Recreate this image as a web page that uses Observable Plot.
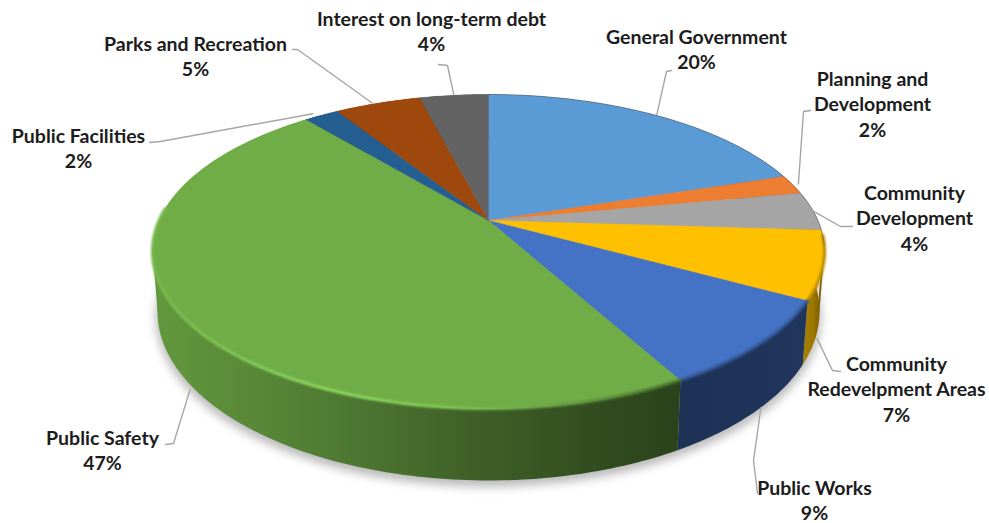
<!DOCTYPE html>
<html>
<head>
<meta charset="utf-8">
<script src="https://cdn.jsdelivr.net/npm/d3@7"></script>
<script src="https://cdn.jsdelivr.net/npm/@observablehq/plot@0.6"></script>
<style>
  html, body { margin: 0; padding: 0; background: #fff; }
  svg { display: block; }
</style>
</head>
<body>
<div id="chart"></div>
<script>
// Share of spending by function, clockwise from twelve o'clock.
const categories = [
  "General Government", "Planning and\nDevelopment", "Community\nDevelopment",
  "Community\nRedevelpment Areas", "Public Works", "Public Safety",
  "Public Facilities", "Parks and Recreation", "Interest on long-term debt"
];
const shares = [20, 2, 4, 7, 9, 47, 2, 5, 4];
const colors = ["#5b9bd5", "#ed7d31", "#a5a5a5", "#ffc000", "#4472c4", "#70ad47", "#255e91", "#9e480e", "#636363"];

// Side wall shading per slice, left to right: [offset, brightness].
const wallStops = [
  [[0, .6]], [[0, .6]], [[0, .5]],
  [[0, .66], [.45, .62], [1, .42]],
  [[0, .44], [.6, .46], [1, .47]],
  [[0, .88], [.17, .8], [.36, .7], [.6, .56], [.85, .44], [1, .38]],
  [[0, .6]], [[0, .6]], [[0, .6]]
];
// Patches that close the wall silhouette at the disc's two widest points:
// slice index, angle range, brightness.
const edgePatches = [[5, 240, 259, .87], [3, 101, 110, .5]];

// Label centre, first line height, then leader elbow/end and its attachment to the disc.
const labelX = [696, 872, 914, 896, 814, 102, 78, 195, 431];
const labelY = [25, 67, 181, 352, 476, 426, 124, 32, 7];
const leaderEnds = [
  [[666, 71], [671, 70]], [[803, 111], [810, 110]], [[840, 226], [852, 226]],
  [[832, 370], [840, 371]], [[753, 460], [757, 493]], [[173, 443], [165, 444]],
  [[160, 141], [149, 142]], [[297, 49], [292, 49]], [[447, 65], [438, 64]]
];
const leaderPlane = ["top", "top", "top", "base", "base", "base", "top", "top", "top"];
const leaderReach = [1.01, 1.02, 1.0, 1.005, 1.0, 1.01, 1.03, 1.01, 1.01];
const leaderTurn = [0, 0, 0, 4, -1.5, -2.5, -1, -1, 0];

// The disc is seen in perspective: top and base are projected from the unit circle.
const tilt = 0.1975;
const centerX = 488;
const topPlane = {a: 329.4, b: 150.9, y0: 220};
const basePlane = {a: 324.5, b: 162.4, y0: 277.6};

function project(plane, degrees, reach = 1) {
  const t = degrees * Math.PI / 180;
  const u = Math.sin(t) * reach, v = Math.cos(t) * reach, d = 1 + tilt * v;
  return [centerX + plane.a * u / d, plane.y0 - plane.b * v / d];
}

const ends = d3.cumsum(shares).map((s) => s / d3.sum(shares) * 360);
const slices = categories.map((name, i) => ({
  name, share: shares[i], color: colors[i], i,
  from: i ? ends[i - 1] : 0, to: ends[i], mid: ((i ? ends[i - 1] : 0) + ends[i]) / 2
}));

const darken = (color, f) => {
  const c = d3.rgb(color);
  return d3.rgb(c.r * f, c.g * f, c.b * f).formatHex();
};

const angles = (s, step = 1) => {
  const n = Math.max(1, Math.ceil((s.to - s.from) / step));
  return d3.range(n + 1).map((k) => s.from + (s.to - s.from) * k / n);
};

// Top face wedges: apex plus the arc.
const faces = slices.flatMap((s) => {
  const pts = [[centerX, topPlane.y0], ...angles(s).map((a) => project(topPlane, a)), [centerX, topPlane.y0]];
  return pts.map(([x, y]) => ({x, y, key: s.name, fill: s.color}));
});

// Side wall of each slice: the top arc followed by the base arc in reverse.
const walls = slices.flatMap((s) => {
  const as = angles(s);
  const pts = [...as.map((a) => project(topPlane, a)), ...as.slice().reverse().map((a) => project(basePlane, a))];
  return pts.map(([x, y]) => ({x, y, key: s.name, fill: `url(#wall-${s.i})`}));
});

const patches = edgePatches.flatMap(([i, from, to, light], n) =>
  [project(topPlane, from), project(topPlane, to), project(basePlane, to), project(basePlane, from)]
    .map(([x, y]) => ({x, y, key: n, fill: darken(colors[i], light)}))
);

// Gradient definitions for the side walls.
const wallGradients = () => {
  const ns = "http://www.w3.org/2000/svg";
  const defs = document.createElementNS(ns, "defs");
  for (const s of slices) {
    const g = document.createElementNS(ns, "linearGradient");
    g.setAttribute("id", `wall-${s.i}`);
    for (const [offset, light] of wallStops[s.i]) {
      const stop = document.createElementNS(ns, "stop");
      stop.setAttribute("offset", offset);
      stop.setAttribute("stop-color", darken(s.color, light));
      g.append(stop);
    }
    defs.append(g);
  }
  return defs;
};

// Soft bevel along the front rim; the green catches the light towards the lower left.
const rimFront = slices.filter((s) => s.to > 95 && s.from < 275).flatMap((s) =>
  angles(s).filter((a) => a >= 95 && a <= 275).map((a) => {
    const [x, y] = project(topPlane, a);
    let stroke;
    if (s.name === "Public Safety") {
      const f = d3.scaleLinear().domain([153, 340, 520, 675]).range([.25, .9, .25, 0]).clamp(true)(x);
      const d = d3.scaleLinear().domain([470, 675]).range([1, .62]).clamp(true)(x);
      stroke = d3.interpolateRgb(darken(s.color, d), "#90de62")(f);
    } else {
      stroke = darken(s.color, .72);
    }
    return {x, y, key: s.name, stroke};
  })
);

const shadowRing = d3.range(0, 361, 3).map((a) => {
  const [x, y] = project(basePlane, a, 1.005);
  return {x, y: y + 5};
});
const backRim = d3.range(0, 100, 1).map((a) => {
  const [x, y] = project(topPlane, a);
  return {x, y};
});

const leaders = slices.flatMap((s) => {
  const plane = leaderPlane[s.i] === "top" ? topPlane : basePlane;
  const start = project(plane, s.mid + leaderTurn[s.i], leaderReach[s.i]);
  return [start, ...leaderEnds[s.i]].map(([x, y]) => ({x, y, key: s.name}));
});

const labels = slices.map((s) => ({
  x: labelX[s.i], y: labelY[s.i], text: `${s.name}\n${s.share}%`
}));

const poly = (data, extra = {}) => Plot.line(data, {
  x: "x", y: "y", z: "key", fill: "fill", curve: "linear", ...extra
});

const chart = Plot.plot({
  width: 989,
  height: 523,
  margin: 0,
  x: {domain: [0, 989], range: [0, 989], axis: null},
  y: {domain: [0, 523], range: [0, 523], axis: null},
  color: {type: "identity"},
  marks: [
    wallGradients,
    Plot.line(shadowRing, {x: "x", y: "y", fill: "#8c8c8c", stroke: "none", fillOpacity: 0.6, imageFilter: "blur(5px)"}),
    poly(patches, {stroke: "none"}),
    poly(walls, {stroke: "none"}),
    poly(faces, {stroke: "fill", strokeWidth: 0.4}),
    Plot.line(rimFront, {x: "x", y: "y", z: null, stroke: "stroke", strokeWidth: 3, imageFilter: "blur(1.2px)"}),
    Plot.line(backRim, {x: "x", y: "y", stroke: "#4d4d4d", strokeOpacity: 0.45, strokeWidth: 1}),
    Plot.line(leaders, {x: "x", y: "y", z: "key", stroke: "#a6a6a6", strokeWidth: 1.4}),
    Plot.text(labels, {
      x: "x", y: "y", text: "text", lineAnchor: "top", lineHeight: 1.31,
      fontFamily: "Lato", fontWeight: 700, fontSize: 19.5, fill: "#1c1c1c", textAnchor: "middle"
    })
  ]
});
document.getElementById("chart").append(chart);
</script>
</body>
</html>
